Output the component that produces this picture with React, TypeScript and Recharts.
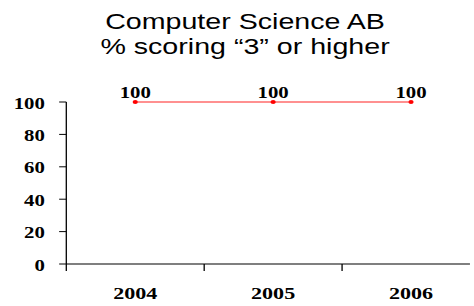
import { LabelList, Line, LineChart, XAxis, YAxis } from "recharts"

const years = ["2004", "2005", "2006"]
const pctScoring3Plus = [100, 100, 100]
const yTicks = [0, 20, 40, 60, 80, 100]

const data = years.map((year, i) => ({ year, value: pctScoring3Plus[i] }))

// the reference is stretched sideways, so the chart is drawn narrow and scaled
const STRETCH = 1.3
const W = 370
const H = 306
const PLOT_LEFT = 51
const PLOT_RIGHT = 361.5
const RIGHT_PAD = -7.7
const BAND = (PLOT_RIGHT - RIGHT_PAD - PLOT_LEFT) / years.length

const serif = "'Liberation Serif', 'Times New Roman', serif"

function YearTick(props: any) {
  const { x, y, payload } = props
  return (
    <g>
      <line x1={x - BAND / 2} x2={x - BAND / 2} y1={y} y2={y + 7} stroke="#000" />
      <text x={x} y={y + 35} textAnchor="middle" fontFamily={serif} fontWeight="bold" fontSize={17} fill="#000">
        {payload.value}
      </text>
    </g>
  )
}

export default function App() {
  return (
    <div style={{ position: "absolute", left: 0, top: 0, width: 474, height: H, overflow: "hidden", background: "#fff" }}>
      <div style={{ position: "relative", width: W, height: H, transform: `scale(${STRETCH}, 1)`, transformOrigin: "0 0" }}>
        <div
          style={{
            position: "absolute",
            left: 0,
            top: 9,
            width: 377,
            textAlign: "center",
            fontFamily: "'Liberation Sans', Arial, sans-serif",
            fontSize: 22,
            lineHeight: "25px",
            color: "#000",
          }}
        >
          Computer Science AB
          <br />% scoring “3” or higher
        </div>
        <LineChart width={W} height={H} data={data} margin={{ top: 102, right: W - PLOT_RIGHT, left: 0, bottom: 0 }}>
          <XAxis
            dataKey="year"
            scale="band"
            height={42}
            padding={{ left: 0, right: RIGHT_PAD }}
            axisLine={{ stroke: "#000" }}
            tickLine={false}
            tickSize={0}
            tickMargin={0}
            tick={<YearTick />}
            interval={0}
          />
          <YAxis
            width={PLOT_LEFT}
            domain={[0, 100]}
            ticks={yTicks}
            interval={0}
            axisLine={{ stroke: "#000" }}
            tickLine={{ stroke: "#000" }}
            tickSize={5.5}
            tickMargin={11}
            tick={{ fontFamily: serif, fontWeight: "bold", fontSize: 16, fill: "#000", dy: 1 }}
          />
          <Line
            dataKey="value"
            stroke="#ff6b6b"
            strokeWidth={1.5}
            dot={{ r: 2, fill: "#ff0000", stroke: "#ff0000", strokeWidth: 0 }}
            activeDot={false}
            isAnimationActive={false}
          >
            <LabelList
              dataKey="value"
              position="top"
              offset={4}
              style={{ fontFamily: serif, fontWeight: "bold", fontSize: 16, fill: "#000" }}
            />
          </Line>
        </LineChart>
      </div>
    </div>
  )
}
